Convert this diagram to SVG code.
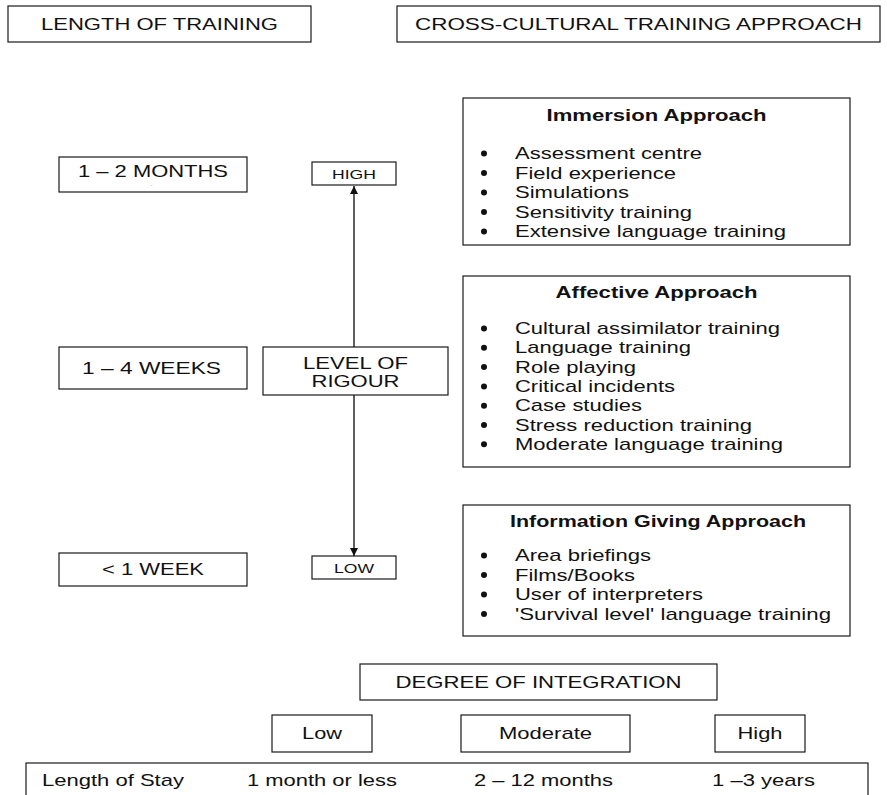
<svg xmlns="http://www.w3.org/2000/svg" width="887" height="795" viewBox="0 0 887 795">
<style>
.b{fill:#fff;stroke:#1a1a1a;stroke-width:1.2}
.t{font-family:"Liberation Sans",Arial,sans-serif;font-size:17px;fill:#111}
.tb{font-family:"Liberation Sans",Arial,sans-serif;font-size:17px;font-weight:bold;fill:#111}
.s{font-family:"Liberation Sans",Arial,sans-serif;font-size:13px;fill:#111}
.d{fill:#111}
.c{stroke:#1a1a1a;stroke-width:1.4;fill:none}
</style>
<defs>
<marker id="ah" viewBox="0 0 10 10" refX="10" refY="5" markerWidth="10" markerHeight="8" markerUnits="userSpaceOnUse" orient="auto">
<path d="M0,0 L10,5 L0,10 z" fill="#111"/>
</marker>
</defs>
<rect width="887" height="795" fill="#fff"/>

<g id="connectors">
<line class="c" x1="354" y1="347" x2="354" y2="186" marker-end="url(#ah)"/>
<line class="c" x1="354" y1="395" x2="354" y2="556" marker-end="url(#ah)"/>
</g>

<g id="length-of-training">
<rect class="b" x="8" y="6" width="303" height="36"/>
<text class="t" x="41" y="30" textLength="237" lengthAdjust="spacingAndGlyphs">LENGTH OF TRAINING</text>
</g>
<g id="cross-cultural">
<rect class="b" x="397" y="6" width="483" height="36"/>
<text class="t" x="415" y="30" textLength="447" lengthAdjust="spacingAndGlyphs">CROSS-CULTURAL TRAINING APPROACH</text>
</g>

<g id="immersion">
<rect class="b" x="463" y="98" width="387" height="147"/>
<text class="tb" x="546.5" y="121" textLength="220" lengthAdjust="spacingAndGlyphs">Immersion Approach</text>
<circle class="d" cx="484" cy="153.5" r="3"/>
<text class="t" x="515" y="159" textLength="187" lengthAdjust="spacingAndGlyphs">Assessment centre</text>
<circle class="d" cx="484" cy="173" r="3"/>
<text class="t" x="515" y="178.5" textLength="161" lengthAdjust="spacingAndGlyphs">Field experience</text>
<circle class="d" cx="484" cy="192.5" r="3"/>
<text class="t" x="515" y="198" textLength="114" lengthAdjust="spacingAndGlyphs">Simulations</text>
<circle class="d" cx="484" cy="212" r="3"/>
<text class="t" x="515" y="217.5" textLength="177" lengthAdjust="spacingAndGlyphs">Sensitivity training</text>
<circle class="d" cx="484" cy="231.5" r="3"/>
<text class="t" x="515" y="237" textLength="271" lengthAdjust="spacingAndGlyphs">Extensive language training</text>
</g>

<g id="affective">
<rect class="b" x="463" y="276" width="387" height="191"/>
<text class="tb" x="555.6" y="298" textLength="202" lengthAdjust="spacingAndGlyphs">Affective Approach</text>
<circle class="d" cx="484" cy="328.5" r="3"/>
<text class="t" x="515" y="334" textLength="265" lengthAdjust="spacingAndGlyphs">Cultural assimilator training</text>
<circle class="d" cx="484" cy="347.8" r="3"/>
<text class="t" x="515" y="353.3" textLength="176" lengthAdjust="spacingAndGlyphs">Language training</text>
<circle class="d" cx="484" cy="367.1" r="3"/>
<text class="t" x="515" y="372.6" textLength="121" lengthAdjust="spacingAndGlyphs">Role playing</text>
<circle class="d" cx="484" cy="386.4" r="3"/>
<text class="t" x="515" y="391.9" textLength="160" lengthAdjust="spacingAndGlyphs">Critical incidents</text>
<circle class="d" cx="484" cy="405.7" r="3"/>
<text class="t" x="515" y="411.2" textLength="127" lengthAdjust="spacingAndGlyphs">Case studies</text>
<circle class="d" cx="484" cy="425" r="3"/>
<text class="t" x="515" y="430.5" textLength="237" lengthAdjust="spacingAndGlyphs">Stress reduction training</text>
<circle class="d" cx="484" cy="444.3" r="3"/>
<text class="t" x="515" y="449.8" textLength="268" lengthAdjust="spacingAndGlyphs">Moderate language training</text>
</g>

<g id="information-giving">
<rect class="b" x="463" y="505" width="387" height="131"/>
<text class="tb" x="510" y="527" textLength="296" lengthAdjust="spacingAndGlyphs">Information Giving Approach</text>
<circle class="d" cx="484" cy="555.5" r="3"/>
<text class="t" x="515" y="561" textLength="136" lengthAdjust="spacingAndGlyphs">Area briefings</text>
<circle class="d" cx="484" cy="575" r="3"/>
<text class="t" x="515" y="580.5" textLength="120" lengthAdjust="spacingAndGlyphs">Films/Books</text>
<circle class="d" cx="484" cy="594.5" r="3"/>
<text class="t" x="515" y="600" textLength="188" lengthAdjust="spacingAndGlyphs">User of interpreters</text>
<circle class="d" cx="484" cy="614" r="3"/>
<text class="t" x="515" y="619.5" textLength="316" lengthAdjust="spacingAndGlyphs">'Survival level' language training</text>
</g>

<g id="months">
<rect class="b" x="59" y="157" width="188" height="35"/>
<text class="t" x="78" y="177" textLength="150" lengthAdjust="spacingAndGlyphs">1 – 2 MONTHS</text>
<text class="t" x="151" y="186" style="font-size:5px">.</text>
</g>
<g id="weeks">
<rect class="b" x="59" y="347" width="188" height="42"/>
<text class="t" x="82" y="374" textLength="139" lengthAdjust="spacingAndGlyphs">1 – 4 WEEKS</text>
</g>
<g id="week">
<rect class="b" x="59" y="553" width="188" height="33"/>
<text class="t" x="102" y="575" textLength="102" lengthAdjust="spacingAndGlyphs">&lt; 1 WEEK</text>
</g>

<g id="high">
<rect class="b" x="312" y="162" width="84" height="23"/>
<text class="s" x="332" y="178.5" textLength="44" lengthAdjust="spacingAndGlyphs">HIGH</text>
</g>
<g id="level-of-rigour">
<rect class="b" x="263" y="347" width="185" height="48"/>
<text class="t" x="303" y="368.5" textLength="105" lengthAdjust="spacingAndGlyphs">LEVEL OF</text>
<text class="t" x="311.5" y="387" textLength="88" lengthAdjust="spacingAndGlyphs">RIGOUR</text>
</g>
<g id="low-rigour">
<rect class="b" x="312" y="556" width="84" height="23"/>
<text class="s" x="334" y="572.5" textLength="40" lengthAdjust="spacingAndGlyphs">LOW</text>
</g>

<g id="degree-of-integration">
<rect class="b" x="360" y="664" width="357" height="36"/>
<text class="t" x="395.5" y="688" textLength="286" lengthAdjust="spacingAndGlyphs">DEGREE OF INTEGRATION</text>
</g>
<g id="integration-low">
<rect class="b" x="272" y="715" width="100" height="37"/>
<text class="t" x="302" y="739" textLength="40" lengthAdjust="spacingAndGlyphs">Low</text>
</g>
<g id="integration-moderate">
<rect class="b" x="461" y="715" width="169" height="37"/>
<text class="t" x="499" y="739" textLength="93" lengthAdjust="spacingAndGlyphs">Moderate</text>
</g>
<g id="integration-high">
<rect class="b" x="715" y="715" width="90" height="37"/>
<text class="t" x="737.5" y="739" textLength="45" lengthAdjust="spacingAndGlyphs">High</text>
</g>

<g id="length-of-stay">
<rect class="b" x="26" y="763" width="842" height="40"/>
<text class="t" x="42" y="786" textLength="142" lengthAdjust="spacingAndGlyphs">Length of Stay</text>
<text class="t" x="247" y="786" textLength="150" lengthAdjust="spacingAndGlyphs">1 month or less</text>
<text class="t" x="474" y="786" textLength="139" lengthAdjust="spacingAndGlyphs">2 – 12 months</text>
<text class="t" x="712" y="786" textLength="103" lengthAdjust="spacingAndGlyphs">1 –3 years</text>
</g>
</svg>
